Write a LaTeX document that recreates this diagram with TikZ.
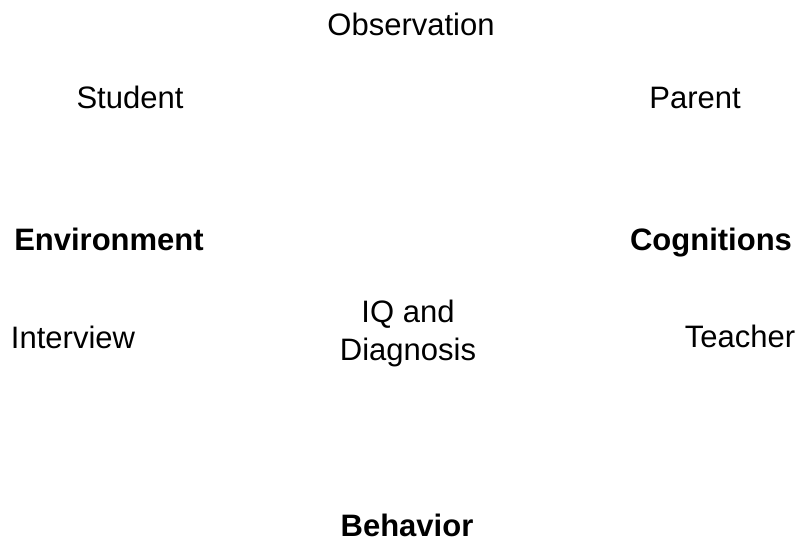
\documentclass[tikz,border=0pt]{standalone}
\usepackage{fontspec}
\setmainfont{Liberation Sans}
\usetikzlibrary{positioning}

\tikzset{
    lbl/.style={anchor=base, inner sep=0pt, font=\fontsize{31}{38}\selectfont, align=center},
    hd/.style={lbl, font=\fontsize{31}{38}\selectfont\bfseries}
}

\begin{document}
\begin{tikzpicture}[x=1pt, y=-1pt]
        \useasboundingbox (0,0) rectangle (805,541);

        % Sources
        \node[lbl] (obs) at (411, 35) {Observation};
        \node[lbl] (student) at (130, 108) {Student};
        \node[lbl] (parent) at (695, 108) {Parent};

        % Areas
        \node[hd] (env) at (109, 250) {Environment};
        \node[hd] (cog) at (711, 250) {Cognitions};

        % Methods
        \node[lbl] (interview) at (73, 348) {Interview};
        \node[lbl] (iq) at (408, 360) {IQ and\\Diagnosis};
        \node[lbl] (teacher) at (740, 347) {Teacher};

        % Bottom
        \node[hd] (behavior) at (407, 536) {Behavior};
    \end{tikzpicture}
\end{document}
